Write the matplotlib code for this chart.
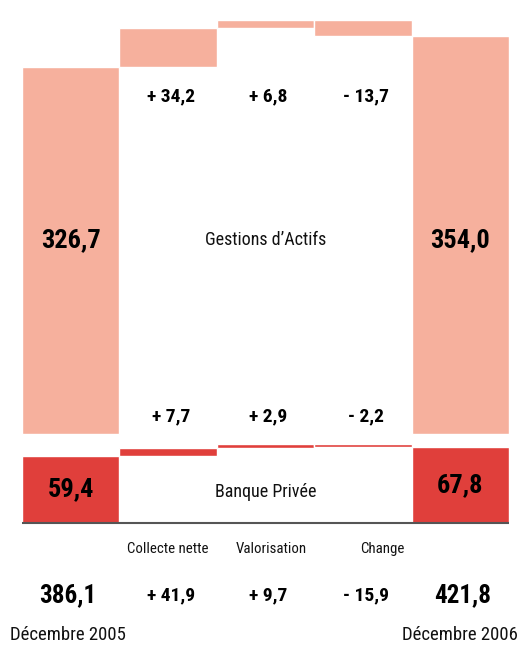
import matplotlib
matplotlib.use("Agg")
import matplotlib.pyplot as plt
from matplotlib import font_manager

# ---------------- data ----------------
steps = ["Décembre 2005", "Collecte nette", "Valorisation", "Change", "Décembre 2006"]
gestion_start = 326.7
gestion_changes = [34.2, 6.8, -13.7]
gestion_end = 354.0
banque_start = 59.4
banque_changes = [7.7, 2.9, -2.2]
banque_end = 67.8
total_start = 386.1
total_changes = [41.9, 9.7, -15.9]
total_end = 421.8
segment_names = ["Gestions d’Actifs", "Banque Privée"]

# ---------------- fonts ----------------
avail = {f.name for f in font_manager.fontManager.ttflist}
family = "DejaVu Sans"
for cand in ["Liberation Sans Narrow", "DejaVu Sans Condensed", "Roboto Condensed", "Liberation Sans", "Roboto"]:
    if cand in avail:
        family = cand
        break
plt.rcParams["font.family"] = [family, "DejaVu Sans"]

PINK = "#F6B09D"
RED = "#E03F3B"

def fmt(v, signed=False):
    s = f"{abs(v):.1f}".replace(".", ",")
    if signed:
        return ("+ " if v >= 0 else "- ") + s
    return s

W, H = 528, 645
fig = plt.figure(figsize=(W / 100, H / 100), dpi=100)
base_px = 523
scale = 1.125  # px per unit
ax = fig.add_axes([22 / W, (H - base_px) / H, 487 / W, base_px / H])
ax.set_xlim(-0.5, 4.5)
ax.set_ylim(0, base_px / scale)
ax.axis("off")

def py(pixel_y):
    """convert a pixel row (from top) to data y"""
    return (base_px - pixel_y) / scale

GEST_BASE = 79.0

# Banque Privée waterfall
run = banque_start
bars_b = [(0, 0, banque_start)]
for i, c in enumerate(banque_changes):
    lo, hi = sorted([run, run + c])
    bars_b.append((i + 1, lo, hi - lo))
    run += c
bars_b.append((4, 0, banque_end))
for x, b, h in bars_b:
    ax.bar(x, h, bottom=b, width=1.0, color=RED, edgecolor="white", linewidth=1.0)

# Gestion d'Actifs waterfall
run = gestion_start
bars_g = [(0, GEST_BASE, gestion_start)]
for i, c in enumerate(gestion_changes):
    lo, hi = sorted([run, run + c])
    bars_g.append((i + 1, GEST_BASE + lo, hi - lo))
    run += c
bars_g.append((4, GEST_BASE, gestion_end))
for x, b, h in bars_g:
    ax.bar(x, h, bottom=b, width=1.0, color=PINK, edgecolor="white", linewidth=1.0)

# baseline
ax.plot([-0.5, 4.5], [0, 0], color="#555555", lw=1.5, clip_on=False, solid_capstyle="butt")

bold = dict(fontweight="bold", ha="center", va="center", color="black")
reg = dict(ha="center", va="center", color="#111111")

# values inside end bars
ax.text(0, py(240), fmt(gestion_start), fontsize=19, **bold)
ax.text(4, py(240), fmt(gestion_end), fontsize=19, **bold)
ax.text(0, py(489), fmt(banque_start), fontsize=19, **bold)
ax.text(4, py(485), fmt(banque_end), fontsize=19, **bold)

# increments
for i, c in enumerate(gestion_changes):
    ax.text(i + 1.03, py(96), fmt(c, True), fontsize=14, **bold)
for i, c in enumerate(banque_changes):
    ax.text(i + 1.03, py(416), fmt(c, True), fontsize=14, **bold)

# segment names
ax.text(2, py(240), segment_names[0], fontsize=13, **reg)
ax.text(2, py(492), segment_names[1], fontsize=13, **reg)

# category labels
offs = [0.0, 0.06, 0.2]
for i, lab in enumerate(steps[1:4]):
    ax.text(i + 1 + offs[i], py(549), lab, fontsize=10.7, clip_on=False, **reg)

# totals
ax.text(-0.03, py(595), fmt(total_start), fontsize=18, clip_on=False, **bold)
for i, c in enumerate(total_changes):
    ax.text(i + 1.03, py(595), fmt(c, True), fontsize=14, clip_on=False, **bold)
ax.text(4.02, py(595), fmt(total_end), fontsize=18, clip_on=False, **bold)

# dates
fig.text(10 / W, 1 - 635 / H, steps[0], fontsize=13.5, ha="left", va="center", color="#111111")
fig.text(518 / W, 1 - 635 / H, steps[4], fontsize=13.5, ha="right", va="center", color="#111111")

fig.savefig("out.png", dpi=100)
